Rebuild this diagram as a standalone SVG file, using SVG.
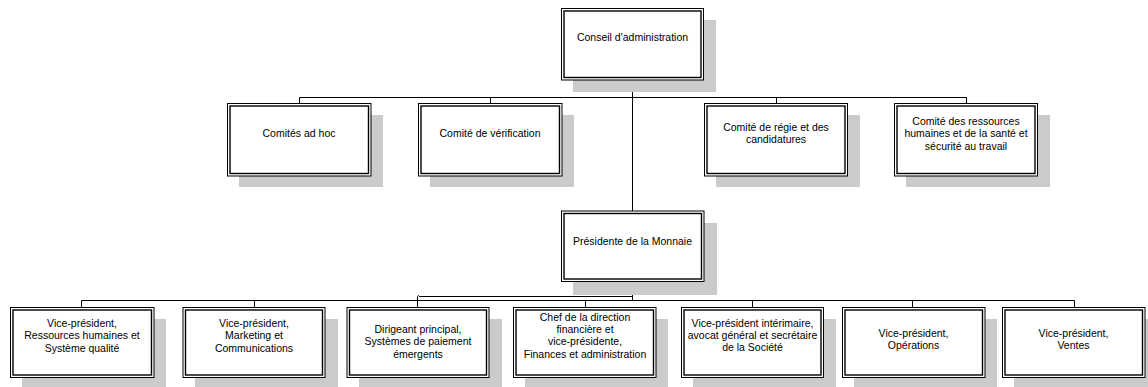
<svg xmlns="http://www.w3.org/2000/svg" width="1148" height="387" viewBox="0 0 1148 387">
<style>
  .shadow { fill: #cbcbcb; stroke: none; }
  .outer { fill: #ffffff; stroke: #000000; stroke-width: 1; }
  .inner { fill: none; stroke: #000000; stroke-width: 1.4; }
  .conn { fill: none; stroke: #000000; stroke-width: 1; }
  text { font-family: "Liberation Sans", Arial, sans-serif; font-size: 10.5px; fill: #000000; text-anchor: middle; }
</style>
<rect width="1148" height="387" fill="#ffffff"/>

<g id="connectors">
  <path class="conn" d="M632.5,80 V211"/>
  <path class="conn" d="M299.5,103 V97.5 H966.5 V103"/>
  <path class="conn" d="M490.5,97.5 V103"/>
  <path class="conn" d="M776.5,97.5 V103"/>
  <path class="conn" d="M632.5,282 V300.5"/>
  <path class="conn" d="M81.5,307 V300.5 H1074.5 V307"/>
  <path class="conn" d="M254.5,300.5 V307"/>
  <path class="conn" d="M585.5,300.5 V307"/>
  <path class="conn" d="M752.5,300.5 V307"/>
  <path class="conn" d="M912.5,300.5 V307"/>
  <path class="conn" d="M632.5,296.5 H419.5 Q418,294.5 417.5,296.5 V307"/>
</g>

<g id="node-conseil">
  <rect class="shadow" x="573" y="20" width="143" height="72"/>
  <rect class="outer" x="561.5" y="8.5" width="142" height="71.5"/>
  <rect class="inner" x="564" y="11" width="137" height="66.5"/>
  <text x="632.5" y="40.5">Conseil d'administration</text>
</g>

<g id="node-adhoc">
  <rect class="shadow" x="239" y="115" width="144" height="72"/>
  <rect class="outer" x="227.5" y="103.5" width="143.5" height="72.5"/>
  <rect class="inner" x="230" y="106" width="138.5" height="67.5"/>
  <text x="299" y="137">Comités ad hoc</text>
</g>

<g id="node-verification">
  <rect class="shadow" x="430" y="115" width="144" height="72"/>
  <rect class="outer" x="418.5" y="103.5" width="143.5" height="72.5"/>
  <rect class="inner" x="421" y="106" width="138.5" height="67.5"/>
  <text x="490" y="137">Comité de vérification</text>
</g>

<g id="node-regie">
  <rect class="shadow" x="716" y="115" width="144" height="72"/>
  <rect class="outer" x="704.5" y="103.5" width="143" height="72.5"/>
  <rect class="inner" x="707" y="106" width="138" height="67.5"/>
  <text x="776" y="130.5">Comité de régie et des</text>
  <text x="776" y="143">candidatures</text>
</g>

<g id="node-rh-sante">
  <rect class="shadow" x="906" y="115" width="144" height="72"/>
  <rect class="outer" x="894.5" y="103.5" width="143" height="72.5"/>
  <rect class="inner" x="897" y="106" width="138" height="67.5"/>
  <text x="966" y="124.5">Comité des ressources</text>
  <text x="966" y="137">humaines et de la santé et</text>
  <text x="966" y="149.5">sécurité au travail</text>
</g>

<g id="node-presidente">
  <rect class="shadow" x="573" y="223" width="144" height="72"/>
  <rect class="outer" x="561.5" y="211" width="142.5" height="70.5"/>
  <rect class="inner" x="564" y="213.5" width="137.5" height="65.5"/>
  <text x="632.5" y="244.5">Présidente de la Monnaie</text>
</g>

<g id="node-vp-rh">
  <rect class="shadow" x="22" y="319" width="144" height="70"/>
  <rect class="outer" x="10.5" y="307.5" width="143.5" height="70"/>
  <rect class="inner" x="13" y="310" width="138.5" height="65"/>
  <text x="82" y="327">Vice-président,</text>
  <text x="82" y="339.4">Ressources humaines et</text>
  <text x="82" y="351.8">Système qualité</text>
</g>

<g id="node-vp-marketing">
  <rect class="shadow" x="195" y="319" width="143" height="70"/>
  <rect class="outer" x="183" y="307.5" width="142" height="70"/>
  <rect class="inner" x="185.5" y="310" width="137" height="65"/>
  <text x="254" y="327">Vice-président,</text>
  <text x="254" y="339.4">Marketing et</text>
  <text x="254" y="351.8">Communications</text>
</g>

<g id="node-paiement">
  <rect class="shadow" x="359" y="319" width="143" height="70"/>
  <rect class="outer" x="347" y="307.5" width="142" height="70"/>
  <rect class="inner" x="349.5" y="310" width="137" height="65"/>
  <text x="418" y="333">Dirigeant principal,</text>
  <text x="418" y="345.4">Systèmes de paiement</text>
  <text x="418" y="357.8">émergents</text>
</g>

<g id="node-finances">
  <rect class="shadow" x="525" y="319" width="143" height="70"/>
  <rect class="outer" x="513.5" y="307.5" width="142.5" height="70"/>
  <rect class="inner" x="516" y="310" width="137.5" height="65"/>
  <text x="585" y="320.5">Chef de la direction</text>
  <text x="585" y="332.9">financière et</text>
  <text x="585" y="345.3">vice-présidente,</text>
  <text x="585" y="357.7">Finances et administration</text>
</g>

<g id="node-juridique">
  <rect class="shadow" x="693" y="319" width="143" height="70"/>
  <rect class="outer" x="681.5" y="307.5" width="142" height="70"/>
  <rect class="inner" x="684" y="310" width="137" height="65"/>
  <text x="752.5" y="326.5">Vice-président intérimaire,</text>
  <text x="752.5" y="338.9">avocat général et secrétaire</text>
  <text x="752.5" y="351.3">de la Société</text>
</g>

<g id="node-operations">
  <rect class="shadow" x="854" y="319" width="143" height="70"/>
  <rect class="outer" x="842.5" y="307.5" width="142.5" height="70"/>
  <rect class="inner" x="845" y="310" width="137.5" height="65"/>
  <text x="913.5" y="337">Vice-président,</text>
  <text x="913.5" y="349.4">Opérations</text>
</g>

<g id="node-ventes">
  <rect class="shadow" x="1014" y="319" width="143" height="70"/>
  <rect class="outer" x="1002.5" y="307.5" width="142.5" height="70"/>
  <rect class="inner" x="1005" y="310" width="137.5" height="65"/>
  <text x="1073.5" y="337">Vice-président,</text>
  <text x="1073.5" y="349.4">Ventes</text>
</g>
</svg>
